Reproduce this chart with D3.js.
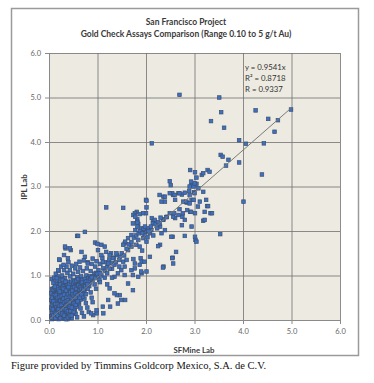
<!DOCTYPE html>
<html>
<head>
<meta charset="utf-8">
<script src="https://cdn.jsdelivr.net/npm/d3@7"></script>
<style>
body { margin: 0; background: #fff; }
</style>
</head>
<body>
<script>
var svg_width = 374;
var svg_height = 383;

// plot box inside the chart frame
var plot_left = 49, plot_right = 340, plot_top = 53, plot_bottom = 320;

var titleLines = ['San Francisco Project', 'Gold Check Assays Comparison (Range 0.10 to 5 g/t Au)'];
var xTitle = 'SFMine Lab';
var yTitle = 'IPL Lab';
var tickValues = [0, 1, 2, 3, 4, 5, 6];
var fitLabels = ['y = 0.9541x', 'R² = 0.8718', 'R = 0.9337'];
var slope = 0.9541;
var fitRange = [0, 5];
var caption = 'Figure provided by Timmins Goldcorp Mexico, S.A. de C.V.';

// dense mass of checks near origin
var lowRange = [
  [0.06,0.02],[0.08,0.05],[0.1,0.03],[0.12,0.08],[0.07,0.12],[0.09,0.18],[0.11,0.14],[0.14,0.1],[0.15,0.04],[0.18,0.06],
  [0.2,0.02],[0.22,0.09],[0.16,0.16],[0.13,0.22],[0.1,0.26],[0.08,0.3],[0.06,0.22],[0.12,0.34],[0.17,0.25],[0.2,0.18],
  [0.24,0.14],[0.26,0.05],[0.28,0.1],[0.3,0.03],[0.23,0.26],[0.19,0.31],[0.15,0.38],[0.11,0.42],[0.07,0.4],[0.09,0.5],
  [0.14,0.47],[0.18,0.42],[0.22,0.36],[0.27,0.3],[0.3,0.22],[0.33,0.15],[0.35,0.08],[0.38,0.02],[0.32,0.34],[0.28,0.4],
  [0.25,0.46],[0.2,0.52],[0.16,0.56],[0.12,0.6],[0.08,0.62],[0.06,0.7],[0.1,0.72],[0.14,0.66],[0.19,0.62],[0.24,0.58],
  [0.29,0.52],[0.34,0.45],[0.37,0.38],[0.4,0.3],[0.42,0.2],[0.45,0.12],[0.47,0.04],[0.36,0.55],[0.31,0.62],[0.27,0.68],
  [0.22,0.7],[0.17,0.76],[0.13,0.8],[0.09,0.84],[0.06,0.92],[0.11,0.95],[0.16,0.88],[0.21,0.82],[0.26,0.78],[0.32,0.72],
  [0.38,0.66],[0.42,0.58],[0.44,0.48],[0.48,0.4],[0.5,0.3],[0.53,0.22],[0.55,0.14],[0.58,0.06],[0.52,0.5],[0.46,0.62],
  [0.41,0.74],[0.35,0.8],[0.29,0.86],[0.24,0.92],[0.18,0.98],[0.14,1.04],[0.2,1.1],[0.27,1.0],[0.33,0.94],[0.4,0.86],
  [0.47,0.78],[0.54,0.68],[0.57,0.58],[0.6,0.46],[0.62,0.36],[0.65,0.26],[0.68,0.16],[0.72,0.08],[0.6,0.66],[0.55,0.8],
  [0.5,0.9],[0.44,0.98],[0.38,1.06],[0.31,1.12],[0.25,1.2],[0.36,1.2],[0.43,1.12],[0.5,1.04],[0.58,0.96],[0.64,0.86],
  [0.68,0.74],[0.7,0.6],[0.73,0.48],[0.76,0.38],[0.79,0.28],[0.82,0.18],[0.74,0.7],[0.72,0.84],[0.66,0.98],[0.6,1.08],
  [0.54,1.16],[0.47,1.22],[0.4,1.3],[0.56,1.26],[0.64,1.18],[0.7,1.1],[0.77,1.0],[0.8,0.88],[0.83,0.76],[0.86,0.62],
  [0.88,0.5],[0.9,0.4],[0.84,0.98],[0.9,0.9],[0.94,0.8],[0.97,0.7],[0.78,1.16],[0.86,1.1],[0.93,1.04],[1.0,0.98],
  [1.04,0.9],[1.08,1.0],[1.02,1.12],[0.95,1.2],[0.88,1.26],[0.8,1.3],[0.72,1.34],[1.12,1.16],[1.06,1.26],[0.98,1.32],
  [0.9,1.38],[1.16,1.3],[1.2,1.2],[1.1,1.4],[1.24,1.36],[1.3,1.28],[1.34,1.4],[1.28,1.5],[1.4,1.46]
];

// the packed core under the fit line
var coreRange = [
  [0.05,0.08],[0.07,0.16],[0.05,0.28],[0.07,0.35],[0.05,0.45],[0.07,0.55],[0.05,0.6],[0.1,0.08],[0.12,0.18],[0.13,0.28],
  [0.1,0.38],[0.12,0.48],[0.1,0.56],[0.11,0.66],[0.16,0.06],[0.17,0.12],[0.18,0.2],[0.15,0.3],[0.16,0.44],[0.15,0.52],
  [0.17,0.6],[0.16,0.7],[0.21,0.05],[0.21,0.13],[0.22,0.22],[0.2,0.28],[0.2,0.4],[0.21,0.46],[0.22,0.58],[0.2,0.66],
  [0.19,0.74],[0.25,0.1],[0.25,0.2],[0.24,0.3],[0.26,0.38],[0.24,0.5],[0.26,0.62],[0.24,0.7],[0.23,0.8],[0.29,0.06],
  [0.29,0.16],[0.28,0.26],[0.29,0.34],[0.3,0.44],[0.28,0.56],[0.3,0.66],[0.29,0.76],[0.28,0.9],[0.33,0.06],[0.32,0.2],
  [0.33,0.28],[0.34,0.38],[0.32,0.5],[0.34,0.6],[0.33,0.68],[0.34,0.86],[0.37,0.1],[0.36,0.2],[0.38,0.26],[0.37,0.46],
  [0.38,0.52],[0.36,0.62],[0.37,0.72],[0.38,0.78],[0.41,0.06],[0.4,0.16],[0.41,0.24],[0.42,0.34],[0.41,0.42],[0.4,0.52],
  [0.42,0.64],[0.41,0.68],[0.42,0.8],[0.44,0.26],[0.45,0.36],[0.46,0.44],[0.44,0.56],[0.46,0.68],[0.45,0.72],[0.46,0.86],
  [0.49,0.14],[0.48,0.22],[0.49,0.34],[0.5,0.46],[0.49,0.56],[0.5,0.62],[0.49,0.72],[0.5,0.82],[0.52,0.26],[0.53,0.38],
  [0.54,0.44],[0.53,0.56],[0.52,0.66],[0.54,0.76],[0.53,0.86],[0.57,0.3],[0.56,0.4],[0.58,0.5],[0.57,0.64],[0.58,0.72],
  [0.56,0.88],[0.61,0.4],[0.6,0.52],[0.62,0.58],[0.61,0.72],[0.62,0.8],[0.6,0.92],[0.65,0.46],[0.64,0.56],[0.66,0.64],
  [0.65,0.76],[0.66,0.9],[0.69,0.52],[0.68,0.66],[0.7,0.8],[0.69,0.9],[0.73,0.62],[0.72,0.74],[0.74,0.92],[0.76,0.58],
  [0.77,0.78],[0.78,0.86],[0.8,0.7],[0.81,0.94],[0.84,0.84],[0.87,0.9],[0.9,0.98],[0.94,0.94],[0.97,1.06],[1.0,1.04],
  [0.06,0.05],[0.09,0.1],[0.08,0.24],[0.09,0.42],[0.06,0.5],[0.08,0.68],[0.13,0.04],[0.14,0.14],[0.13,0.36],[0.14,0.56],
  [0.12,0.72],[0.18,0.1],[0.19,0.24],[0.18,0.36],[0.18,0.5],[0.19,0.68],[0.23,0.04],[0.23,0.17],[0.22,0.32],[0.23,0.43],
  [0.22,0.52],[0.22,0.64],[0.27,0.14],[0.27,0.23],[0.26,0.34],[0.27,0.43],[0.26,0.54],[0.27,0.72],[0.31,0.1],[0.31,0.26],
  [0.31,0.39],[0.3,0.48],[0.31,0.57],[0.3,0.7],[0.35,0.02],[0.35,0.24],[0.35,0.33],[0.35,0.42],[0.36,0.5],[0.35,0.66],
  [0.39,0.06],[0.39,0.2],[0.39,0.36],[0.39,0.44],[0.39,0.58],[0.4,0.74],[0.43,0.1],[0.44,0.2],[0.43,0.3],[0.43,0.4],
  [0.43,0.52],[0.44,0.62],[0.47,0.1],[0.47,0.28],[0.47,0.5],[0.48,0.58],[0.48,0.66],[0.51,0.18],[0.51,0.38],[0.51,0.54],
  [0.52,0.74],[0.55,0.34],[0.55,0.5],[0.55,0.6],[0.56,0.7],[0.59,0.42],[0.59,0.56],[0.6,0.78],[0.63,0.5],[0.63,0.68],
  [0.64,0.74],[0.67,0.58],[0.67,0.7],[0.68,0.84],[0.71,0.68],[0.72,0.78],[0.75,0.76],[0.76,0.86],[0.79,0.8],[0.82,0.88],
  [0.85,0.92],[0.88,0.96]
];

// checks between 1 and 3.5 g/t
var midRange = [
  [2.91,3.37],[3.01,3.32],[3.04,3.20],[3.15,3.26],[3.27,3.37],[3.31,3.33],[3.18,3.30],[2.49,3.12],[2.51,3.03],[2.94,3.03],
  [2.98,3.0],[2.89,2.90],[2.99,2.87],[3.04,3.06],[3.08,2.96],[3.18,2.88],[2.67,2.85],[2.74,2.82],[2.56,2.81],[2.36,2.77],
  [2.32,2.66],[2.60,2.70],[2.77,2.66],[2.84,2.64],[2.94,2.70],[2.0,2.70],[2.54,2.85],[2.39,2.66],[3.11,2.66],[3.26,2.56],
  [3.33,2.40],[3.18,2.23],[2.85,2.47],[2.91,2.43],[3.01,2.40],[2.69,2.49],[2.60,2.29],[2.43,2.32],[2.36,2.26],[2.75,2.32],
  [2.29,2.10],[2.80,2.25],[2.74,2.13],[2.94,2.10],[3.01,1.87],[3.02,1.80],[2.80,1.89],[2.55,1.87],[1.18,2.53],[1.53,2.52],
  [0.74,1.98],[0.58,1.89],[2.01,2.68],[2.01,2.53],[1.81,2.43],[1.77,2.40],[1.74,2.36],[2.0,2.40],[2.12,2.29],[2.15,2.21],
  [1.82,2.26],[1.82,2.21],[1.84,2.16],[2.39,2.02],[2.29,1.69],[2.55,1.40],[2.56,1.27],[2.36,1.20],[2.01,1.09],[1.91,1.05],
  [1.89,1.39],[1.91,1.31],[1.74,1.37],[1.57,0.45],[1.46,0.56],[1.26,0.30],[1.12,0.15],[0.98,0.15],[0.91,0.11],[1.40,0.56],
  [0.95,1.74],[1.0,1.71],[1.08,1.69],[1.15,1.65],[0.34,1.61],[0.45,1.57],[0.31,1.46],[0.39,1.39],[0.22,1.35],[0.67,1.53],
  [0.74,1.42],[0.63,1.31],[0.80,1.27],[1.01,1.57],[1.08,1.46],[1.18,1.53],[1.25,1.46],[1.32,1.39],[1.39,1.50],[1.46,1.42],
  [1.53,1.31],[1.35,1.24],[1.22,1.27],[1.11,1.31],[1.56,1.72],[1.70,1.65],[1.63,1.57],[1.78,2.32],[1.87,2.38],[1.94,2.40],
  [1.73,2.17],[1.82,2.19],[1.82,2.10],[1.78,2.02],[1.90,2.06],[1.96,2.02],[2.01,1.98],[2.04,2.06],[2.08,1.95],[1.97,1.91],
  [1.94,1.84],[2.03,1.86],[2.11,2.02],[1.70,1.91],[1.63,1.84],[1.57,1.76],[1.53,1.69],[1.84,1.80],[1.80,1.69],[1.87,1.65],
  [1.92,1.56],[2.01,1.76],[2.23,2.06],[2.28,2.17],[2.35,2.25],[2.42,2.31],[2.49,2.40],[2.32,1.95],[2.56,2.32],[2.58,2.40],
  [2.67,2.36],[2.76,2.40],[2.93,2.43],[2.52,1.87],[3.04,1.76],[3.21,2.25],[3.36,2.40],[2.62,1.53],[2.54,1.39],[2.35,1.18],
  [2.25,1.66],[2.28,2.81],[2.39,2.77],[2.49,2.85],[2.59,2.81],[2.69,2.85],[2.80,2.86],[2.90,2.81],[3.0,2.85],[2.90,3.0],
  [3.0,3.07],[2.93,3.11],[2.83,2.66],[2.90,2.62],[2.98,2.70],[3.24,2.70],[3.28,2.56],[3.21,2.43],[3.07,2.55],[2.18,2.25],
  [2.14,2.17],[2.08,1.42],[1.97,1.31],[1.87,1.24],[1.77,1.27],[1.70,1.12],[1.73,1.01],[1.90,1.09],[1.84,0.97],[1.56,1.20],
  [1.49,1.12],[1.42,1.05],[1.35,0.97],[0.60,1.89],[0.33,1.65],[0.43,1.61],[0.21,1.36],[0.30,1.24],[0.19,1.12],
  [0.16,0.94],[0.12,0.75],[1.25,0.71],[1.35,0.60],[1.22,0.45],[1.49,0.45],[1.11,0.30],[0.98,0.22],[0.87,0.15],[1.42,0.37],
  [1.63,0.82],[1.73,0.67],[1.77,1.16],[1.56,1.01],[1.05,1.05],[1.15,1.1],[1.2,1.05],[1.3,1.15],[1.38,1.3],[1.45,1.35],
  [1.5,1.5],[1.55,1.45],[1.6,1.6],[1.65,1.7],[1.7,1.75],[1.75,1.85],[1.8,1.9],[1.85,1.95],[1.88,2.0],[1.92,1.95],
  [1.95,2.05],[1.98,2.1],[2.05,2.0],[2.1,2.1],[2.2,2.15],[2.25,2.2],[2.3,2.3],[2.15,1.9],[1.6,1.35],[1.45,1.2],
  [1.25,1.15],[1.15,0.95],[1.05,0.85],[1.3,0.95],[1.2,0.8]
];

// checks above 3.5 g/t
var highRange = [
  [2.69,5.06],[3.51,5.0],[3.55,4.67],[3.34,4.47],[3.61,4.32],[4.26,4.71],[4.52,4.52],[4.72,4.49],[4.99,4.73],[4.65,4.23],
  [3.92,4.04],[4.06,3.96],[4.43,3.97],[2.12,3.97],[3.54,3.71],[3.58,3.67],[3.70,3.60],[3.65,3.47],[3.92,3.54],[4.39,3.27],
  [4.01,2.66],[3.53,1.93]
];

var svg = d3.select('body').append('svg')
            .attr('width', svg_width)
            .attr('height', svg_height);

var xscale = d3.scaleLinear().domain([0, 6]).range([plot_left, plot_right]);
var yscale = d3.scaleLinear().domain([0, 6]).range([plot_bottom, plot_top]);

// chart frame
svg.append('rect')
    .attr('x', 11.5).attr('y', 8.5)
    .attr('width', 347).attr('height', 347)
    .attr('fill', '#fff')
    .attr('stroke', '#9a9a9a')
    .attr('stroke-width', 1.5);

// plot background
svg.append('rect')
    .attr('x', plot_left).attr('y', plot_top)
    .attr('width', plot_right - plot_left).attr('height', plot_bottom - plot_top)
    .attr('fill', '#edeae1');

// grid
var xgrid = d3.axisBottom(xscale).tickValues(tickValues).tickSize(-(plot_bottom - plot_top)).tickFormat('');
var ygrid = d3.axisLeft(yscale).tickValues(tickValues).tickSize(-(plot_right - plot_left)).tickFormat('');

svg.append('g')
    .attr('transform', 'translate(0, ' + plot_bottom + ')')
    .call(xgrid)
    .call(function(g) { g.select('.domain').remove(); })
    .selectAll('line').attr('stroke', '#707070').attr('stroke-width', 0.8);

svg.append('g')
    .attr('transform', 'translate(' + plot_left + ', 0)')
    .call(ygrid)
    .call(function(g) { g.select('.domain').remove(); })
    .selectAll('line').attr('stroke', '#707070').attr('stroke-width', 0.8);

// axes with labels
var fmt = d3.format('.1f');
var xaxis = d3.axisBottom(xscale).tickValues(tickValues).tickSize(4).tickPadding(5).tickFormat(fmt);
var yaxis = d3.axisLeft(yscale).tickValues(tickValues).tickSize(4).tickPadding(4).tickFormat(fmt);

var gx = svg.append('g')
    .attr('transform', 'translate(0, ' + plot_bottom + ')')
    .call(xaxis);
var gy = svg.append('g')
    .attr('transform', 'translate(' + plot_left + ', 0)')
    .call(yaxis);

[gx, gy].forEach(function(g) {
  g.select('.domain').attr('stroke', '#8a8a8a');
  g.selectAll('.tick line').attr('stroke', '#8a8a8a');
  g.selectAll('.tick text')
    .attr('fill', '#666')
    .style('font-family', 'Lato, sans-serif')
    .style('font-size', '7.5px');
});

// points
var points = lowRange.concat(coreRange, midRange, highRange);
svg.append('g')
    .selectAll('rect')
    .data(points)
    .enter().append('rect')
    .attr('x', function(d) { return xscale(d[0]) - 1.8; })
    .attr('y', function(d) { return yscale(d[1]) - 1.8; })
    .attr('width', 3.6)
    .attr('height', 3.6)
    .attr('fill', '#3d6fc2')
    .attr('stroke', '#3d5170')
    .attr('stroke-width', 0.7);

// linear fit through origin
svg.append('line')
    .attr('x1', xscale(fitRange[0])).attr('y1', yscale(slope * fitRange[0]))
    .attr('x2', xscale(fitRange[1])).attr('y2', yscale(slope * fitRange[1]))
    .attr('stroke', '#7a7a7a')
    .attr('stroke-width', 1);

// fit statistics
svg.append('g')
    .selectAll('text')
    .data(fitLabels)
    .enter().append('text')
    .attr('x', 245)
    .attr('y', function(d, i) { return 70 + i * 11; })
    .attr('fill', '#333')
    .style('font-family', 'Lato, sans-serif')
    .style('font-size', '7.8px')
    .text(function(d) { return d; });

// titles
svg.append('g')
    .selectAll('text')
    .data(titleLines)
    .enter().append('text')
    .attr('x', 186)
    .attr('y', function(d, i) { return 25 + i * 11.5; })
    .attr('text-anchor', 'middle')
    .attr('fill', '#3a3a3a')
    .style('font-family', 'Lato, sans-serif')
    .style('font-weight', 'bold')
    .style('font-size', '8.5px')
    .text(function(d) { return d; });

svg.append('text')
    .attr('x', 194)
    .attr('y', 353)
    .attr('text-anchor', 'middle')
    .attr('fill', '#3a3a3a')
    .style('font-family', 'Lato, sans-serif')
    .style('font-weight', 'bold')
    .style('font-size', '7.8px')
    .text(xTitle);

svg.append('text')
    .attr('transform', 'translate(27, 187) rotate(-90)')
    .attr('text-anchor', 'middle')
    .attr('fill', '#3a3a3a')
    .style('font-family', 'Lato, sans-serif')
    .style('font-weight', 'bold')
    .style('font-size', '7.8px')
    .text(yTitle);

svg.append('text')
    .attr('x', 11)
    .attr('y', 369)
    .attr('fill', '#111')
    .style('font-family', '"Liberation Serif", serif')
    .style('font-size', '10.5px')
    .text(caption);
</script>
</body>
</html>
